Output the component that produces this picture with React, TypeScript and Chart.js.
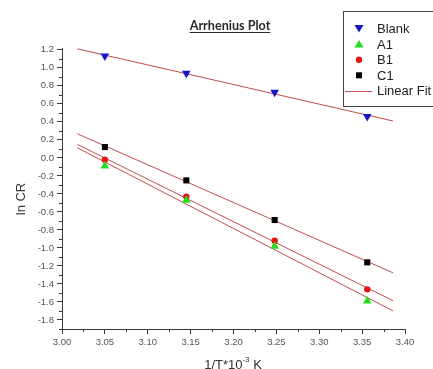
import React, { useEffect, useRef } from "react";
import { Chart, registerables } from "chart.js";

Chart.register(...registerables);

const xValues = [3.05, 3.145, 3.248, 3.356];
const blank = [1.13, 0.94, 0.73, 0.46];
const a1 = [-0.09, -0.47, -0.98, -1.59];
const b1 = [-0.02, -0.43, -0.92, -1.46];
const c1 = [0.12, -0.25, -0.69, -1.16];
const fitRange = [3.018, 3.386];
const xTickRange = [3.0, 3.4];
const yTickRange = [-1.9, 1.22];

const fitColor = "rgb(195,75,75)";
const axisColor = "#3a3a3a";

function linearFit(xs: number[], ys: number[]) {
  const n = xs.length;
  const mx = xs.reduce((a, b) => a + b, 0) / n;
  const my = ys.reduce((a, b) => a + b, 0) / n;
  let sxy = 0,
    sxx = 0;
  for (let i = 0; i < n; i++) {
    sxy += (xs[i] - mx) * (ys[i] - my);
    sxx += (xs[i] - mx) * (xs[i] - mx);
  }
  const slope = sxy / sxx;
  return fitRange.map((x) => ({ x, y: my + slope * (x - mx) }));
}

const pts = (ys: number[]) => xValues.map((x, i) => ({ x, y: ys[i] }));

function drawMarker(ctx: CanvasRenderingContext2D, kind: string, x: number, y: number) {
  ctx.save();
  ctx.beginPath();
  if (kind === "down") {
    ctx.fillStyle = "#1414c8";
    ctx.moveTo(x - 4.5, y - 3.5);
    ctx.lineTo(x + 4.5, y - 3.5);
    ctx.lineTo(x, y + 4);
  } else if (kind === "up") {
    ctx.fillStyle = "#22dd22";
    ctx.moveTo(x - 4.5, y + 3.5);
    ctx.lineTo(x + 4.5, y + 3.5);
    ctx.lineTo(x, y - 4);
  } else if (kind === "circle") {
    ctx.fillStyle = "#ee1111";
    ctx.arc(x, y, 3.2, 0, Math.PI * 2);
  } else {
    ctx.fillStyle = "#000";
    ctx.rect(x - 3, y - 3, 6, 6);
  }
  ctx.closePath();
  ctx.fill();
  ctx.restore();
}

const decorPlugin = {
  id: "decor",
  afterDraw(chart: any) {
    const ctx: CanvasRenderingContext2D = chart.ctx;
    const xs = chart.scales.x;
    const ys = chart.scales.y;
    ctx.save();
    // minor ticks
    ctx.strokeStyle = axisColor;
    ctx.lineWidth = 1;
    ctx.beginPath();
    for (let k = 0; k < 8; k++) {
      const v = 3.025 + k * 0.05;
      const px = Math.round(xs.getPixelForValue(v)) + 0.5;
      ctx.moveTo(px, ys.bottom);
      ctx.lineTo(px, ys.bottom + 3);
    }
    for (let k = -19; k <= 11; k += 2) {
      const v = k / 10;
      const py = Math.round(ys.getPixelForValue(v)) + 0.5;
      ctx.moveTo(xs.left, py);
      ctx.lineTo(xs.left - 3, py);
    }
    ctx.stroke();

    // title
    ctx.fillStyle = "#2a2a2a";
    ctx.font = "bold 12.6px Lato, 'DejaVu Sans'";
    ctx.textAlign = "center";
    ctx.textBaseline = "alphabetic";
    const title = "Arrhenius Plot";
    ctx.fillText(title, 230, 30);
    const tw = ctx.measureText(title).width;
    ctx.beginPath();
    ctx.moveTo(230 - tw / 2, 32.5);
    ctx.lineTo(230 + tw / 2, 32.5);
    ctx.strokeStyle = "#2a2a2a";
    ctx.stroke();

    // y title
    ctx.save();
    ctx.translate(21, 199);
    ctx.rotate(-Math.PI / 2);
    ctx.font = "13px 'Liberation Sans', Arial";
    ctx.textAlign = "center";
    ctx.textBaseline = "middle";
    ctx.fillStyle = "#333";
    ctx.fillText("ln CR", 0, 0);
    ctx.restore();

    // x title
    ctx.font = "13px 'Liberation Sans', Arial";
    const p1 = "1/T*10";
    const p2 = "-3";
    const p3 = " K";
    const w1 = ctx.measureText(p1).width;
    const w3 = ctx.measureText(p3).width;
    ctx.font = "8px 'Liberation Sans', Arial";
    const w2 = ctx.measureText(p2).width;
    const total = w1 + w2 + w3;
    let sx = 233 - total / 2;
    ctx.textAlign = "left";
    ctx.textBaseline = "alphabetic";
    ctx.fillStyle = "#333";
    ctx.font = "13px 'Liberation Sans', Arial";
    ctx.fillText(p1, sx, 369);
    sx += w1;
    ctx.font = "8px 'Liberation Sans', Arial";
    ctx.fillText(p2, sx, 362);
    sx += w2;
    ctx.font = "13px 'Liberation Sans', Arial";
    ctx.fillText(p3, sx, 369);

    // legend
    ctx.strokeStyle = "#444";
    ctx.lineWidth = 1;
    ctx.strokeRect(343.5, 11.5, 120, 95);
    const rows = [
      { label: "Blank", kind: "down" },
      { label: "A1", kind: "up" },
      { label: "B1", kind: "circle" },
      { label: "C1", kind: "rect" },
      { label: "Linear Fit", kind: "line" },
    ];
    ctx.font = "13px 'Liberation Sans', Arial";
    ctx.textBaseline = "middle";
    rows.forEach((r, i) => {
      const y = 28.5 + i * 15.6;
      if (r.kind === "line") {
        ctx.beginPath();
        ctx.strokeStyle = fitColor;
        ctx.moveTo(345, Math.round(y) + 0.5);
        ctx.lineTo(372, Math.round(y) + 0.5);
        ctx.stroke();
      } else {
        drawMarker(ctx, r.kind, 359, y);
      }
      ctx.fillStyle = "#222";
      ctx.fillText(r.label, 377, y + 1);
    });
    ctx.restore();
  },
};

export default function App() {
  const ref = useRef<HTMLCanvasElement>(null);
  useEffect(() => {
    if (!ref.current) return;
    const pointDs = (label: string, ys: number[], style: any, color: string, radius: number, rotation = 0) => ({
      label,
      data: pts(ys),
      pointStyle: style,
      pointRotation: rotation,
      pointRadius: radius,
      pointBackgroundColor: color,
      pointBorderColor: color,
      pointBorderWidth: 0,
      showLine: false,
      order: 1,
    });
    const fitDs = (ys: number[]) => ({
      label: "Linear Fit",
      data: linearFit(xValues, ys),
      showLine: true,
      borderColor: fitColor,
      borderWidth: 1,
      pointRadius: 0,
      order: 2,
    });
    const tickFont = { family: "'Liberation Sans', Arial", size: 9.5 };
    const chart = new Chart(ref.current, {
      type: "scatter",
      data: {
        datasets: [
          pointDs("Blank", blank, "triangle", "#1414c8", 5, 180),
          pointDs("A1", a1, "triangle", "#22dd22", 5),
          pointDs("B1", b1, "circle", "#ee1111", 3.2),
          pointDs("C1", c1, "rect", "#000000", 4.3),
          fitDs(blank),
          fitDs(a1),
          fitDs(b1),
          fitDs(c1),
        ] as any,
      },
      options: {
        animation: false,
        responsive: false,
        layout: { padding: { top: 48, right: 28, left: 0, bottom: 0 } },
        plugins: { legend: { display: false }, title: { display: false }, tooltip: { enabled: false } },
        scales: {
          x: {
            type: "linear",
            min: xTickRange[0],
            max: xTickRange[1],
            afterFit: (s: any) => {
              s.height = 40;
            },
            ticks: {
              stepSize: 0.05,
              includeBounds: false,
              color: "#555",
              font: tickFont,
              padding: 3,
              maxRotation: 0,
              autoSkip: false,
              callback: (v: any) => Number(v).toFixed(2),
            },
            grid: { drawOnChartArea: false, drawTicks: true, tickLength: 5, color: axisColor },
            border: { display: true, color: axisColor, width: 1 },
          },
          y: {
            type: "linear",
            min: yTickRange[0],
            max: yTickRange[1],
            afterFit: (s: any) => {
              s.width = 62;
            },
            ticks: {
              stepSize: 0.2,
              includeBounds: false,
              color: "#555",
              font: tickFont,
              padding: 3,
              autoSkip: false,
              callback: (v: any) => {
                const n = Math.abs(Number(v)) < 1e-9 ? 0 : Number(v);
                return n.toFixed(1);
              },
            },
            grid: { drawOnChartArea: false, drawTicks: true, tickLength: 5, color: axisColor },
            border: { display: true, color: axisColor, width: 1 },
          },
        },
      },
      plugins: [decorPlugin],
    });
    return () => chart.destroy();
  }, []);
  return (
    <div style={{ position: "absolute", left: 0, top: 0, width: 433, height: 369, background: "#fff" }}>
      <canvas ref={ref} width={433} height={369} />
    </div>
  );
}
